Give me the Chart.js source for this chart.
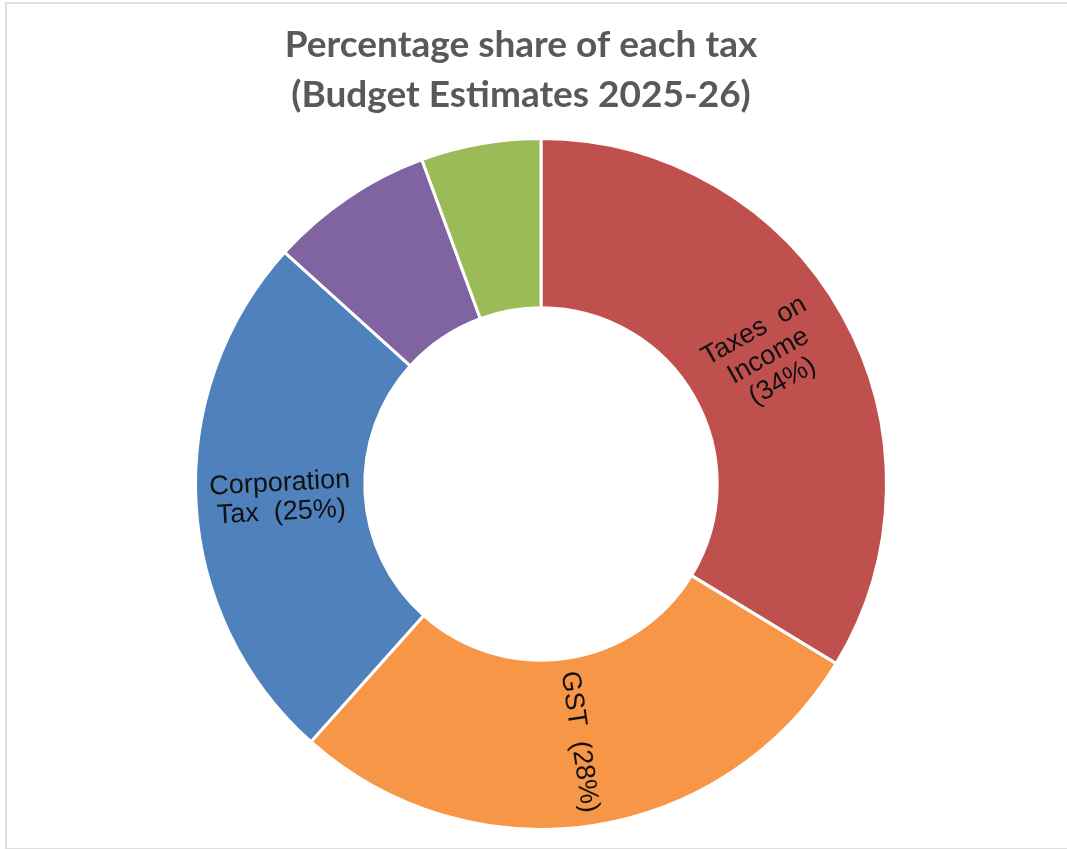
<!DOCTYPE html>
<html lang="en">
<head>
<meta charset="utf-8">
<title>Percentage share of each tax</title>
<script src="https://cdn.jsdelivr.net/npm/chart.js@4.4.1/dist/chart.umd.min.js"></script>
<style>
    html, body {
        margin: 0;
        padding: 0;
        background: #ffffff;
        overflow: hidden;
    }
    #wrap {
        position: relative;
        width: 1067px;
        height: 849px;
    }
    #frame {
        position: absolute;
        left: 5px;
        top: 2px;
        width: 1070px;
        height: 844px;
        border: 2px solid #dedede;
        pointer-events: none;
    }
</style>
</head>
<body>
<div id="wrap">
    <canvas id="tax-chart" width="1067" height="849"></canvas>
    <div id="frame"></div>
</div>
<script>
// Data (share of gross tax revenue, %)
const categories = ['Taxes on Income', 'GST', 'Corporation Tax', 'Union Excise Duties', 'Customs'];
const shares = [33.7, 27.9, 25.1, 7.7, 5.6];
// label lines drawn inside the ring (null = no label)
const labelLines = [
    ['Taxes  on', 'Income', '(34%)'],
    ['GST  (28%)'],
    ['Corporation', 'Tax  (25%)'],
    null,
    null
];
const titleLines = ['Percentage share of each tax', '(Budget Estimates 2025-26)'];

const sliceColors = ['#C0504D', '#F79646', '#4F81BD', '#8064A2', '#9BBB59'];

// Title drawn by hand so it can sit left of the ring centre like the original
const titlePlugin = {
    id: 'sheetTitle',
    afterDraw(chart) {
        const ctx = chart.ctx;
        ctx.save();
        ctx.fillStyle = '#595959';
        ctx.font = 'bold 37px Lato, "Open Sans", sans-serif';
        ctx.textAlign = 'center';
        ctx.textBaseline = 'alphabetic';
        ctx.fillText(titleLines[0], 521, 57);
        ctx.fillText(titleLines[1], 521, 107);
        ctx.restore();
    }
};

// Rotated labels, placed on the ring's mid radius and turned along the radius
const sliceLabels = {
    id: 'sliceLabels',
    afterDatasetsDraw(chart) {
        const ctx = chart.ctx;
        const meta = chart.getDatasetMeta(0);
        ctx.save();
        ctx.fillStyle = '#111111';
        ctx.font = '27px "Liberation Sans", Arial, sans-serif';
        ctx.textAlign = 'center';
        ctx.textBaseline = 'middle';
        meta.data.forEach((arc, i) => {
            const lines = labelLines[i];
            if (!lines) return;
            const p = arc.getProps(['x', 'y', 'startAngle', 'endAngle', 'innerRadius', 'outerRadius'], true);
            const mid = (p.startAngle + p.endAngle) / 2;
            const r = (p.innerRadius + p.outerRadius) / 2;
            const x = p.x + Math.cos(mid) * r;
            const y = p.y + Math.sin(mid) * r;
            let rot = mid;
            // keep the text readable
            while (rot > Math.PI) rot -= Math.PI * 2;
            while (rot < -Math.PI) rot += Math.PI * 2;
            if (rot > Math.PI / 2) rot -= Math.PI;
            if (rot < -Math.PI / 2) rot += Math.PI;
            ctx.save();
            ctx.translate(x, y);
            ctx.rotate(rot);
            const lh = 29;
            const top = -((lines.length - 1) * lh) / 2;
            lines.forEach((line, k) => {
                ctx.fillText(line, 0, top + k * lh);
            });
            ctx.restore();
        });
        ctx.restore();
    }
};

const ctx = document.getElementById('tax-chart').getContext('2d');
new Chart(ctx, {
    type: 'doughnut',
    data: {
        labels: categories,
        datasets: [{
            data: shares,
            backgroundColor: sliceColors,
            borderColor: '#ffffff',
            borderWidth: 3,
            hoverOffset: 0,
            offset: 0
        }]
    },
    options: {
        responsive: false,
        animation: false,
        cutout: '51%',
        rotation: 0,
        layout: {
            padding: { left: 194, right: 179, top: 137, bottom: 18 }
        },
        plugins: {
            legend: { display: false },
            title: { display: false },
            tooltip: { enabled: false }
        }
    },
    plugins: [sliceLabels, titlePlugin]
});
</script>
</body>
</html>
